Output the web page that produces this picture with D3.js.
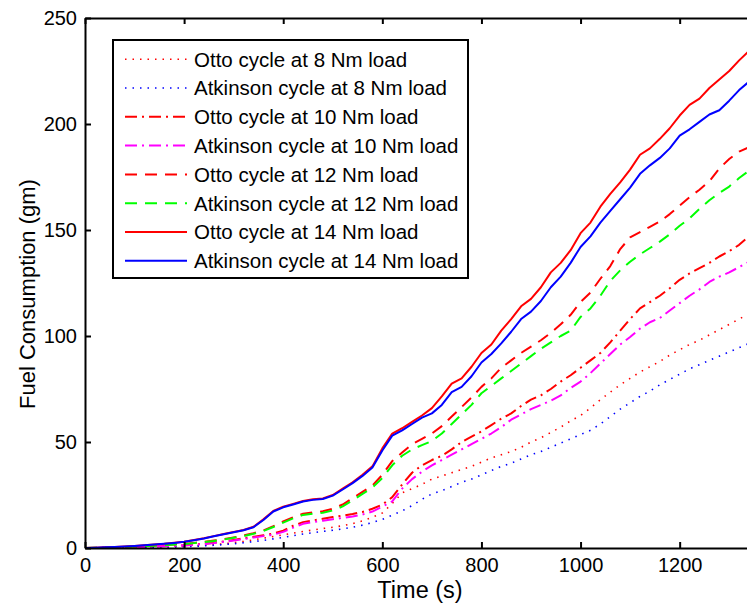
<!DOCTYPE html>
<html>
<head>
<meta charset="utf-8">
<script src="https://cdn.jsdelivr.net/npm/d3@7"></script>
<style>
  html, body { margin: 0; padding: 0; background: #fff; }
  svg { display: block; font-family: "Liberation Sans", Arial, Helvetica, sans-serif; }
</style>
</head>
<body>
<svg id="chart" width="747" height="606"></svg>
<script>
// Sample times (s)
const time = [0,20,40,60,80,100,120,140,160,180,200,220,240,260,280,300,320,340,360,380,
  400,420,440,460,480,500,520,540,560,580,600,620,640,660,680,700,720,740,760,780,
  800,820,840,860,880,900,920,940,960,980,1000,1020,1040,1060,1080,1100,1120,1140,1160,1180,
  1200,1220,1240,1260,1280,1300,1320,1340,1360];

// Cumulative fuel consumption (gm)
const otto8 = [0,0,0,0.1,0.1,0.2,0.3,0.4,0.5,0.6,0.8,1.0,1.3,1.6,2.0,2.5,3.1,3.8,4.6,5.4,
  6.2,7.0,7.8,8.5,9.2,9.8,10.5,11.5,12.8,14.5,16.5,21,26,28,30,32.5,34,35.5,37,38.5,
  40.5,42.5,44,45.5,47.5,50,52,54.5,57,60,62.5,66,70,73.5,77,80,83,85.5,88,91,
  93.5,96,98,100.5,103,105.5,108,110.5,112];
const atkinson8 = [0,0,0,0,0.1,0.1,0.2,0.3,0.4,0.5,0.6,0.8,1.0,1.3,1.6,2.0,2.5,3.0,3.6,4.3,
  5.0,5.8,6.6,7.2,7.8,8.4,9.0,9.8,10.8,12,13.5,15.5,17.5,20,23,25.5,27,29,31,32.5,
  34.5,36.5,38.5,40,42,44,45.5,47.5,49.5,51.5,53.5,55.5,58.5,62,65.5,68.5,71.5,74,77,79.5,
  82,84.5,86.5,88.5,90.5,92.5,94.5,96.5,98];
const otto10 = [0,0,0.1,0.2,0.3,0.4,0.5,0.7,0.9,1.1,1.3,1.6,2.0,2.5,3.1,3.8,4.6,5.3,6.0,6.8,
  8.2,10.5,12.2,13.0,13.8,14.6,15.3,16.0,17.0,18.5,20.5,24,30,35.5,39,41.5,43.5,46.5,50,52.5,
  55,58,61,63.5,67,70,72,75,78.5,81.5,85,88.5,92,97,102.5,108,113,116,119,122.5,
  126.5,129.5,132,134.5,137.5,140,143,147,149.5];
const atkinson10 = [0,0,0.1,0.2,0.3,0.4,0.5,0.6,0.8,1.0,1.2,1.5,1.9,2.3,2.9,3.5,4.2,4.9,5.6,6.3,
  7.6,9.6,11.4,12.2,12.9,13.6,14.2,14.9,15.8,17.2,19.5,22,28,32.5,36,39,41.5,44,46.5,49,
  51.5,54,57,60.5,63,65.5,67.5,69.5,72,75.5,78.5,82.5,87,91.5,96,99.5,103.5,106.5,108.5,112,
  115.5,119,122,125.5,128,130,132.5,135,137];
const otto12 = [0,0.1,0.2,0.3,0.5,0.7,0.9,1.1,1.4,1.7,2.0,2.4,2.9,3.5,4.2,5.0,5.9,7.0,8.3,10.3,
  12.5,14.5,16.2,16.8,17.3,18.5,20.5,23.5,26.5,29.5,34.5,41,45,49,51.5,54,57.5,62,66.5,71,
  76,80,85,88.5,92,95,98,101.5,105.5,110,116,120.5,127,133,141,146.5,149,151.5,154,157.5,
  161.5,165.5,169,173,179,183.5,187,189,191];
const atkinson12 = [0,0.1,0.2,0.3,0.5,0.7,0.9,1.1,1.3,1.6,1.9,2.3,2.8,3.3,4.0,4.8,5.6,6.7,8.0,9.9,
  12.0,14.0,15.6,16.2,16.6,17.7,19.6,22.5,25.5,28.5,33,39,43.5,46.5,48.5,50.5,54,58.5,63,67.5,
  73,76.5,80,83.5,87,90.5,94,97,100,102.5,109,113,119,126,131,135,138.5,141.5,144.5,148,
  152,155.5,160,164,167.5,170.5,174.5,178,180];
const otto14 = [0,0.1,0.3,0.5,0.7,1.0,1.3,1.7,2.0,2.5,3.0,3.8,4.6,5.6,6.6,7.5,8.5,10.0,13.5,17.5,
  19.5,20.8,22.2,23.0,23.4,25.0,28.0,31.0,34.5,38.5,47.0,54.0,56.5,59.5,62.5,66,71.5,77.5,80,85.5,
  92,96,102.5,108,114,117.5,123,130,134.5,140.5,148.5,153.5,161,167,172.5,178.5,185.5,188.5,193,198,
  204,209,212,217,221,225,230,234.5,237];
const atkinson14 = [0,0.1,0.3,0.5,0.7,1.0,1.3,1.6,2.0,2.4,2.9,3.7,4.5,5.5,6.5,7.4,8.4,9.8,13.2,17.2,
  19.2,20.5,21.9,22.7,23.1,24.7,27.6,30.6,34.0,38.0,46,53,55.5,58.5,61.5,63.5,67.5,73.5,76,81,
  87.5,91.5,96.5,102,108,111.5,116.5,123,128,134.5,142,147,153.5,159,164.5,170,176.5,180.5,184,188.5,
  194.5,197.5,201,204.5,206.5,211,216,220,222.5];

const seriesLabels = [
  "Otto cycle at 8 Nm load", "Atkinson cycle at 8 Nm load",
  "Otto cycle at 10 Nm load", "Atkinson cycle at 10 Nm load",
  "Otto cycle at 12 Nm load", "Atkinson cycle at 12 Nm load",
  "Otto cycle at 14 Nm load", "Atkinson cycle at 14 Nm load"
];
const xTicks = [0,200,400,600,800,1000,1200];
const yTicks = [0,50,100,150,200,250];

// Line styles per series
const styles = [
  {color: "#ff0000", dash: "1.5,6", width: 1.6},
  {color: "#0000ff", dash: "1.5,6", width: 1.6},
  {color: "#ff0000", dash: "12,5,2,5", width: 2},
  {color: "#ff00ff", dash: "12,5,2,5", width: 2},
  {color: "#ff0000", dash: "12,8", width: 2},
  {color: "#00ff00", dash: "12,8", width: 2},
  {color: "#ff0000", dash: null, width: 2},
  {color: "#0000ff", dash: null, width: 2}
];
const values = [otto8, atkinson8, otto10, atkinson10, otto12, atkinson12, otto14, atkinson14];

const svg = d3.select("#chart");
const plotLeft = 85, plotRight = 754, plotTop = 18, plotBottom = 548;

const x = d3.scaleLinear().domain([0, 1350]).range([plotLeft, plotRight]);
const y = d3.scaleLinear().domain([0, 250]).range([plotBottom, plotTop]);

svg.append("clipPath").attr("id", "plotClip")
  .append("rect").attr("x", plotLeft).attr("y", plotTop)
  .attr("width", plotRight - plotLeft).attr("height", plotBottom - plotTop);

const line = d3.line().x((d, i) => x(time[i])).y(d => y(d));

const plot = svg.append("g").attr("clip-path", "url(#plotClip)");
values.forEach((vals, k) => {
  const s = styles[k];
  plot.append("path")
    .datum(vals)
    .attr("d", line)
    .attr("fill", "none")
    .attr("stroke", s.color)
    .attr("stroke-width", s.width)
    .attr("stroke-dasharray", s.dash)
    .attr("stroke-linejoin", "round");
});

// Axes (inward ticks, box style)
function styleAxis(g) {
  g.select(".domain").attr("stroke", "#000").attr("stroke-width", 2);
  g.selectAll(".tick line").attr("stroke", "#000").attr("stroke-width", 2);
  g.selectAll(".tick text").attr("fill", "#000").attr("font-size", 20)
    .attr("font-family", "'Liberation Sans', Arial, sans-serif");
}
const fmt = d3.format("d");

svg.append("g")
  .attr("transform", `translate(0,${plotBottom})`)
  .call(d3.axisBottom(x).tickValues(xTicks).tickFormat(fmt)
    .tickSizeInner(-6).tickSizeOuter(0).tickPadding(10))
  .call(styleAxis);

svg.append("g")
  .attr("transform", `translate(0,${plotTop})`)
  .call(d3.axisTop(x).tickValues(xTicks).tickSizeInner(-6).tickSizeOuter(0).tickFormat(""))
  .call(styleAxis);

svg.append("g")
  .attr("transform", `translate(${plotLeft},0)`)
  .call(d3.axisLeft(y).tickValues(yTicks).tickFormat(fmt)
    .tickSizeInner(-6).tickSizeOuter(0).tickPadding(8))
  .call(styleAxis);

svg.append("g")
  .attr("transform", `translate(${plotRight},0)`)
  .call(d3.axisRight(y).tickValues(yTicks).tickSizeInner(-6).tickSizeOuter(0).tickFormat(""))
  .call(styleAxis);

// Axis titles
svg.append("text")
  .attr("x", 420).attr("y", 598)
  .attr("text-anchor", "middle").attr("font-size", 23.5).attr("fill", "#000")
  .text("Time (s)");

svg.append("text")
  .attr("transform", "translate(35,294) rotate(-90)")
  .attr("text-anchor", "middle").attr("font-size", 22).attr("fill", "#000")
  .text("Fuel Consumption (gm)");

// Legend
const legend = svg.append("g");
legend.append("rect")
  .attr("x", 113).attr("y", 40).attr("width", 355).attr("height", 238)
  .attr("fill", "#fff").attr("stroke", "#000").attr("stroke-width", 2);

seriesLabels.forEach((label, k) => {
  const s = styles[k];
  const cy = 59.3 + k * 28.77;
  legend.append("line")
    .attr("x1", 125).attr("x2", 187).attr("y1", cy).attr("y2", cy)
    .attr("stroke", s.color).attr("stroke-width", s.width)
    .attr("stroke-dasharray", s.dash);
  legend.append("text")
    .attr("x", 194).attr("y", cy).attr("dy", "0.36em")
    .attr("font-size", 20.5).attr("fill", "#000")
    .text(label);
});
</script>
</body>
</html>
